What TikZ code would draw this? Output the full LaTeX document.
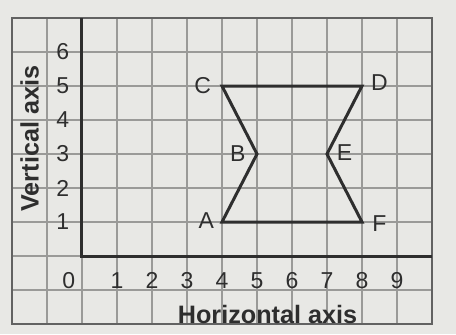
\documentclass[tikz,border=0pt]{standalone}
\usepackage{fontspec}
\setmainfont{Liberation Sans}
\definecolor{paper}{HTML}{E8E8E5}
\definecolor{gridc}{HTML}{9A9A98}
\definecolor{ink}{HTML}{2E2E2E}
\begin{document}
\begin{tikzpicture}[x=17.5pt,y=17pt,
  gridline/.style={draw=gridc,line width=0.55pt},
  border/.style={draw=ink!75,line width=0.9pt},
  axisline/.style={draw=ink,line width=1.5pt},
  shapeline/.style={draw=ink,line width=1.5pt,line join=miter},
  num/.style={text=ink,font=\fontsize{11.5}{13}\selectfont,inner sep=0pt},
  ptlabel/.style={text=ink,font=\fontsize{11.5}{13}\selectfont,inner sep=0pt},
  axtitle/.style={text=ink,font=\fontsize{12.6}{14}\selectfont\bfseries,inner sep=0pt}]
\useasboundingbox (-41pt,-39pt) rectangle (187pt,128pt);
\fill[paper] (-41pt,-39pt) rectangle (187pt,128pt);
% grid
\foreach \i in {-1,...,9} \draw[gridline] (\i,-2) -- (\i,7);
\foreach \j in {-1,...,6} \draw[gridline] (-2,\j) -- (10,\j);
\draw[border] (-2,-2) rectangle (10,7);
% axes
\coordinate (top) at (0,7);
\coordinate (org) at (0,0);
\coordinate (xend) at (10,0);
\draw[axisline] (top) -- (org) -- (xend);
% tick labels
\node[num] (x0) at (-0.38,-0.72) {0};
\foreach \i in {1,...,9} \node[num] (x\i) at (\i,-0.72) {\i};
\foreach \j in {1,...,6} \node[num] (y\j) at (-0.55,\j) {\j};
% axis titles
\node[axtitle,rotate=90] (vt) at (-1.5,3.45) {Vertical axis};
\node[axtitle] (ht) at (5.3,-1.72) {Horizontal axis};
% shape
\coordinate (A) at (4,1);
\coordinate (B) at (5,3);
\coordinate (C) at (4,5);
\coordinate (D) at (8,5);
\coordinate (E) at (7,3);
\coordinate (F) at (8,1);
\draw[shapeline] (A) -- (B) -- (C) -- (D) -- (E) -- (F) -- cycle;
\node[ptlabel] (la) at (3.55,1.05) {A};
\node[ptlabel] (lb) at (4.45,3.02) {B};
\node[ptlabel] (lc) at (3.45,5.0) {C};
\node[ptlabel] (ld) at (8.5,5.1) {D};
\node[ptlabel] (le) at (7.5,3.05) {E};
\node[ptlabel] (lf) at (8.5,0.95) {F};
\end{tikzpicture}
\end{document}
